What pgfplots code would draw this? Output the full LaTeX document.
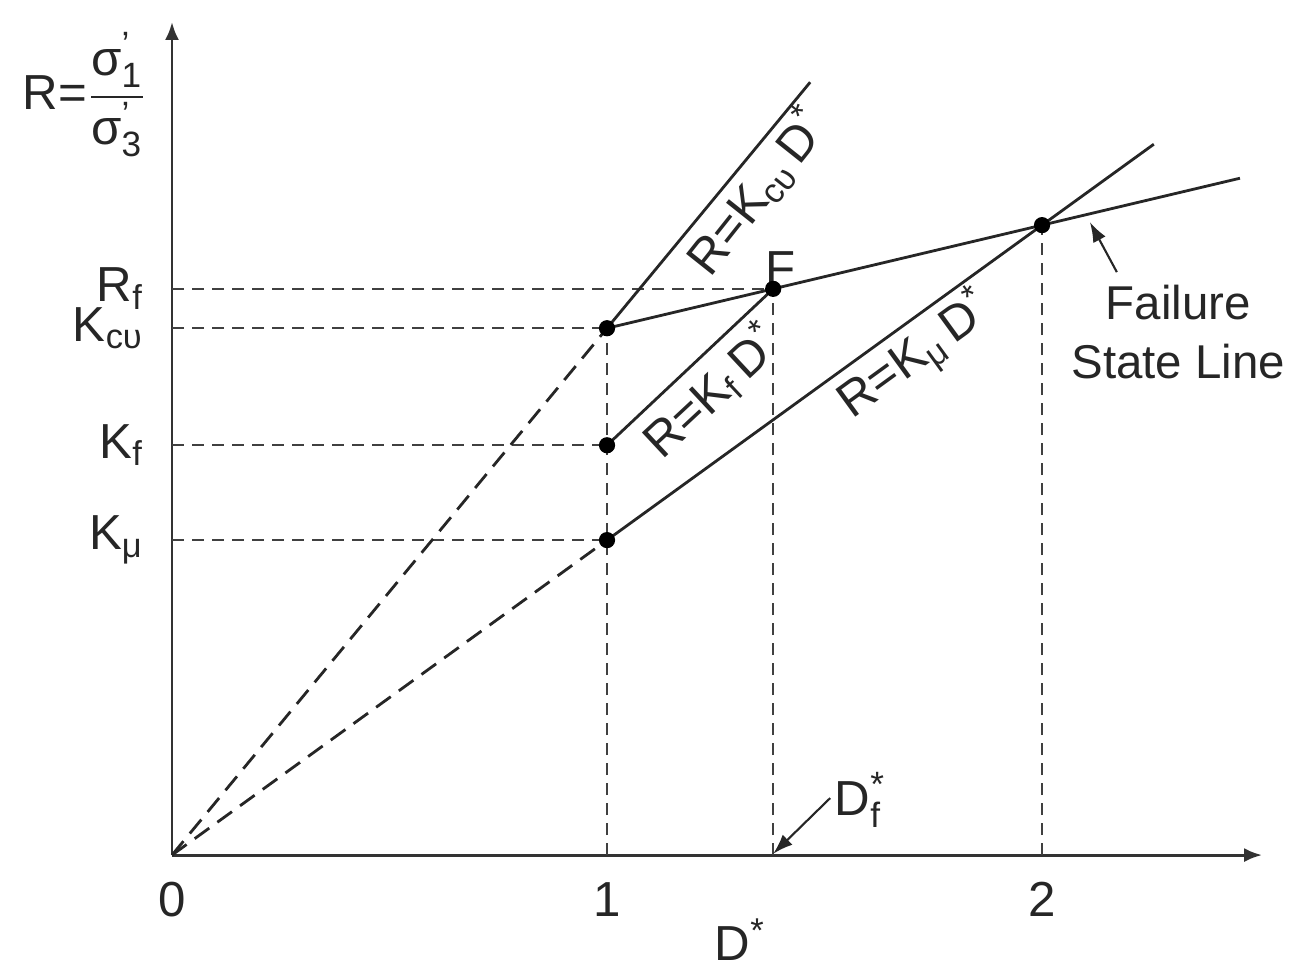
\documentclass[border=0pt]{standalone}
\usepackage{fontspec}
\setmainfont{Liberation Sans}
\usepackage{pgfplots}
\pgfplotsset{compat=1.18}
\usetikzlibrary{arrows.meta}
\newcommand{\ssub}[1]{\mbox{\fontsize{10}{10}\selectfont #1}}
\begin{document}
\begin{tikzpicture}
\begin{axis}[
  scale only axis,
  width=10.9cm, height=8.33cm,
  axis lines=left,
  axis line style={line width=0.85pt, black!80, -{Latex[length=1.8mm,width=1.4mm]}},
  xmin=0, xmax=2.506, ymin=0, ymax=1.915,
  xtick={0,1,2},
  ytick={0.724,0.942,1.211,1.3015},
  yticklabels={K\textsubscript{μ}, K\textsubscript{f}, K\textsubscript{cυ}, R\textsubscript{f}},
  tick align=inside, major tick length=1mm,
  tick style={black!80, line width=0.6pt},
  ticklabel style={font=\fontsize{14}{16}\selectfont, text=black!85},
  xticklabel style={yshift=-1.5mm},
  yticklabel style={xshift=-1.6mm},
  /pgf/number format/assume math mode=true,
  clip=false,
]
% frame for the page
\path (axis cs:-0.3954,-0.287) (axis cs:2.616,1.9655);

% guide lines
\addplot[black!75, line width=0.6pt, dash pattern=on 1.2mm off 0.8mm] coordinates {(0,1.3015) (1.382,1.3015)};
\addplot[black!75, line width=0.6pt, dash pattern=on 1.2mm off 0.8mm] coordinates {(0,1.211) (1,1.211)};
\addplot[black!75, line width=0.6pt, dash pattern=on 1.2mm off 0.8mm] coordinates {(0,0.942) (1,0.942)};
\addplot[black!75, line width=0.6pt, dash pattern=on 1.2mm off 0.8mm] coordinates {(0,0.724) (1,0.724)};
\addplot[black!75, line width=0.6pt, dash pattern=on 1.2mm off 0.8mm] coordinates {(1,0) (1,1.211)};
\addplot[black!75, line width=0.6pt, dash pattern=on 1.2mm off 0.8mm] coordinates {(1.382,0) (1.382,1.3015)};
\addplot[black!75, line width=0.6pt, dash pattern=on 1.2mm off 0.8mm] coordinates {(2,0) (2,1.448)};

% dashed parts from the origin
\addplot[black!85, line width=0.8pt, dash pattern=on 1.8mm off 1mm] coordinates {(0,0) (1,1.211)};
\addplot[black!85, line width=0.8pt, dash pattern=on 1.8mm off 1mm] coordinates {(0,0) (1,0.724)};

% solid lines
\addplot[black!85, line width=0.8pt] coordinates {(1,1.211) (1.467,1.7765)};
\addplot[black!85, line width=0.8pt] coordinates {(1,0.942) (1.382,1.3015)};
\addplot[black!85, line width=0.8pt] coordinates {(1,0.724) (2.257,1.634)};
\addplot[black!85, line width=0.8pt] coordinates {(1,1.211) (2.455,1.5558)};

% points
\addplot[only marks, mark=*, mark size=2.1pt, black] coordinates {
  (1,1.211) (1,0.942) (1,0.724) (1.382,1.3015) (2,1.448)
};

% labels
\node[font=\fontsize{14}{16}\selectfont, text=black!85] at (axis cs:-0.200,1.747)
  {R=$\displaystyle\frac{\mbox{σ}^{\ssub{’}}_{\ssub{1}}}{\mbox{σ}^{\ssub{’}}_{\ssub{3}}}$};
\node[font=\fontsize{14}{16}\selectfont, text=black!85] at (axis cs:1.306,-0.195) {D\textsuperscript{*}};
\node[font=\fontsize{14}{16}\selectfont, text=black!85] at (axis cs:1.398,1.349) {F};
\node[font=\fontsize{14}{16}\selectfont, text=black!85, rotate=51.5] at (axis cs:1.345,1.525)
  {R=K\textsubscript{cυ}\,D\textsuperscript{*}};
\node[font=\fontsize{14}{16}\selectfont, text=black!85, rotate=43] at (axis cs:1.241,1.066)
  {R=K\textsubscript{f}\,D\textsuperscript{*}};
\node[font=\fontsize{14}{16}\selectfont, text=black!85, rotate=36] at (axis cs:1.710,1.147)
  {R=K\textsubscript{μ}\,D\textsuperscript{*}};
\node[font=\fontsize{13.5}{17}\selectfont, text=black!85, align=center] at (axis cs:2.313,1.202)
  {Failure\\State Line};
\node[font=\fontsize{14}{16}\selectfont, text=black!85] at (axis cs:1.582,0.126)
  {D$^{\ssub{*}}_{\ssub{f}}$};
\draw[black!85, line width=0.6pt, -{Latex[length=2mm,width=1.4mm]}] (axis cs:2.172,1.340) -- (axis cs:2.110,1.455);
\draw[black!85, line width=0.6pt, -{Latex[length=2mm,width=1.4mm]}] (axis cs:1.513,0.131) -- (axis cs:1.382,0.003);
\end{axis}
\end{tikzpicture}
\end{document}
